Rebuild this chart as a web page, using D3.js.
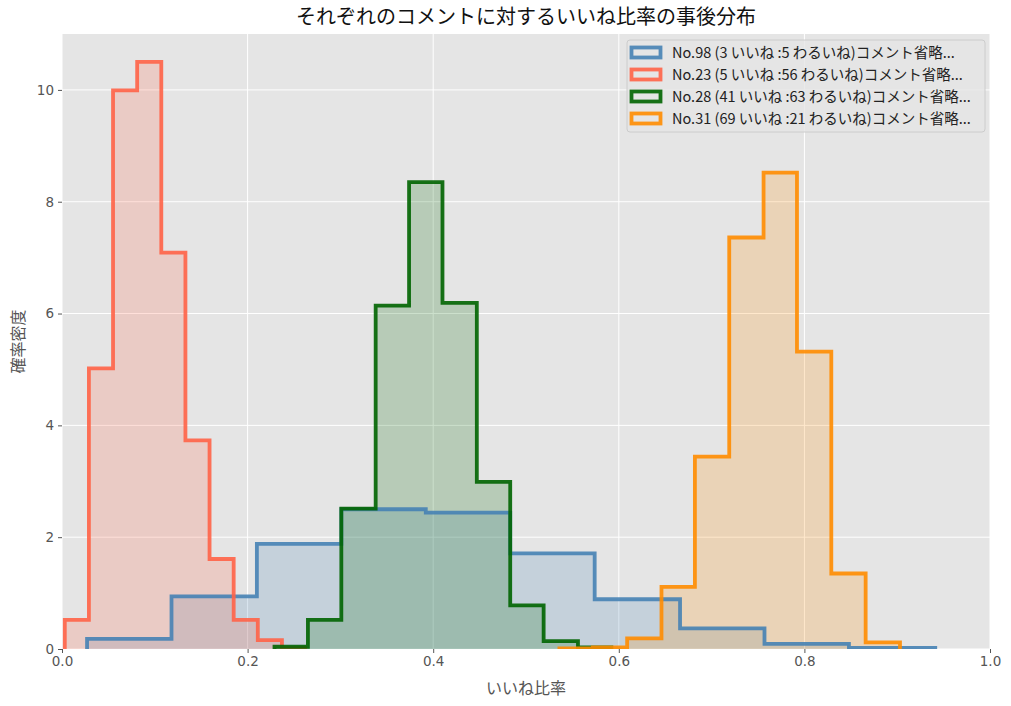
<!DOCTYPE html>
<html>
<head>
<meta charset="utf-8">
<script src="https://cdn.jsdelivr.net/npm/d3@7"></script>
<style>
  body { margin: 0; background: #fff; }
  text { font-family: "Noto Sans CJK JP", "DejaVu Sans", sans-serif; }
</style>
</head>
<body>
<svg id="chart" width="1011" height="706"></svg>
<script>
// series labels and colours (legend order = draw order)
var labels = [
  "No.98 (3 いいね :5 わるいね)コメント省略...",
  "No.23 (5 いいね :56 わるいね)コメント省略...",
  "No.28 (41 いいね :63 わるいね)コメント省略...",
  "No.31 (69 いいね :21 わるいね)コメント省略..."
]
var colors = ["#4682B4", "#FF6347", "#006400", "#FF8C00"]

// bin edges and densities
var edges98 = [0.027, 0.118, 0.210, 0.301, 0.392, 0.483, 0.574, 0.666, 0.757, 0.848, 0.941]
var dens98  = [0.18, 0.94, 1.88, 2.50, 2.44, 1.71, 0.89, 0.37, 0.09, 0.02]

var edges23 = [0.003, 0.029, 0.055, 0.081, 0.107, 0.133, 0.159, 0.185, 0.211, 0.237, 0.262]
var dens23  = [0.52, 5.02, 9.99, 10.50, 7.09, 3.73, 1.61, 0.52, 0.16, 0.02]

var edges28 = [0.229, 0.265, 0.301, 0.338, 0.374, 0.410, 0.447, 0.483, 0.519, 0.556, 0.592]
var dens28  = [0.04, 0.52, 2.51, 6.14, 8.35, 6.19, 2.99, 0.78, 0.14, 0.03]

var edges31 = [0.536, 0.572, 0.609, 0.646, 0.682, 0.719, 0.756, 0.792, 0.829, 0.866, 0.903]
var dens31  = [0.01, 0.03, 0.19, 1.11, 3.44, 7.36, 8.52, 5.32, 1.35, 0.12]

var xTicks = [0, 0.2, 0.4, 0.6, 0.8, 1.0]
var yTicks = [0, 2, 4, 6, 8, 10]

var allEdges = [edges98, edges23, edges28, edges31]
var allDens = [dens98, dens23, dens28, dens31]

var svg = d3.select("#chart")
var plotL = 62, plotR = 990, plotT = 34, plotB = 649

var x = d3.scaleLinear().domain([0, 1]).range([plotL, plotR])
var y = d3.scaleLinear().domain([0, 11]).range([plotB, plotT])

svg.append("rect").attr("x", plotL).attr("y", plotT)
  .attr("width", plotR - plotL).attr("height", plotB - plotT)
  .style("fill", "#E5E5E5")

svg.append("clipPath").attr("id", "plotclip").append("rect")
  .attr("x", plotL).attr("y", plotT).attr("width", plotR - plotL).attr("height", plotB - plotT)

// grid
var grid = svg.append("g")
grid.selectAll(".gx").data(xTicks).enter().append("line")
  .attr("x1", d => x(d)).attr("x2", d => x(d)).attr("y1", plotT).attr("y2", plotB)
  .style("stroke", "#fff").style("stroke-width", 1)
grid.selectAll(".gy").data(yTicks).enter().append("line")
  .attr("y1", d => y(d)).attr("y2", d => y(d)).attr("x1", plotL).attr("x2", plotR)
  .style("stroke", "#fff").style("stroke-width", 1)

// axes
var xAxis = d3.axisBottom(x).tickValues(xTicks).tickFormat(d3.format(".1f")).tickSize(4).tickPadding(3)
var yAxis = d3.axisLeft(y).tickValues(yTicks).tickFormat(d3.format("d")).tickSize(4).tickPadding(4)

var gx = svg.append("g").attr("transform", "translate(0," + plotB + ")").call(xAxis)
var gy = svg.append("g").attr("transform", "translate(" + plotL + ",0)").call(yAxis)
;[gx, gy].forEach(function (g) {
  g.select(".domain").remove()
  g.selectAll(".tick line").style("stroke", "#555").style("stroke-width", 1)
  g.selectAll(".tick text").style("fill", "#555").style("font-size", "13.5px")
    .style("font-family", "'DejaVu Sans', sans-serif")
})

// histograms: fills first, then the step outlines on top
var plot = svg.append("g").attr("clip-path", "url(#plotclip)")
var line = d3.line().x(d => x(d[0])).y(d => y(d[1]))

var steps = allEdges.map(function (edges, i) {
  var dens = allDens[i]
  var pts = [[edges[0], 0]]
  dens.forEach(function (v, j) {
    pts.push([edges[j], v])
    pts.push([edges[j + 1], v])
  })
  pts.push([edges[edges.length - 1], 0])
  return pts
})

steps.forEach(function (pts, i) {
  plot.append("path").attr("d", line(pts) + "Z")
    .style("fill", colors[i]).style("fill-opacity", 0.2).style("stroke", "none")
})
steps.forEach(function (pts, i) {
  plot.append("path").attr("d", line(pts))
    .style("fill", "none").style("stroke", colors[i]).style("stroke-opacity", 0.9)
    .style("stroke-width", 3.8).style("stroke-linejoin", "miter")
})

// title and labels
svg.append("text").attr("x", (plotL + plotR) / 2).attr("y", 24)
  .attr("text-anchor", "middle").style("font-size", "20px").style("fill", "#111")
  .text("それぞれのコメントに対するいいね比率の事後分布")

svg.append("text").attr("x", (plotL + plotR) / 2).attr("y", 694)
  .attr("text-anchor", "middle").style("font-size", "16px").style("fill", "#555")
  .text("いいね比率")

svg.append("text").attr("transform", "translate(24," + ((plotT + plotB) / 2) + ") rotate(-90)")
  .attr("text-anchor", "middle").style("font-size", "16px").style("fill", "#555")
  .text("確率密度")

// legend
var legend = svg.append("g").attr("transform", "translate(627,40)")
legend.append("rect").attr("x", 0).attr("y", 0).attr("width", 358).attr("height", 92)
  .attr("rx", 3).style("fill", "#E5E5E5").style("fill-opacity", 0.8)
  .style("stroke", "#CCCCCC").style("stroke-width", 1)

labels.forEach(function (label, i) {
  var row = legend.append("g").attr("transform", "translate(0," + (12.5 + i * 22) + ")")
  row.append("rect").attr("x", 4.5).attr("y", -5).attr("width", 29).attr("height", 10)
    .style("fill", "none").style("stroke", colors[i]).style("stroke-opacity", 0.9)
    .style("stroke-width", 3.8)
  row.append("text").attr("x", 45).attr("y", 5)
    .style("font-size", "14.5px").style("fill", "#222")
    .text(label)
})
</script>
</body>
</html>
